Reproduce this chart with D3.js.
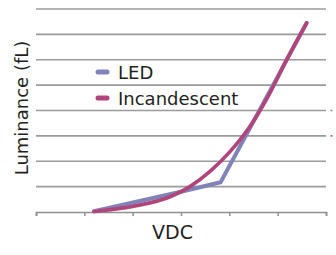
<!DOCTYPE html>
<html>
<head>
<meta charset="utf-8">
<script src="https://cdn.jsdelivr.net/npm/d3@7"></script>
<style>
  body { margin: 0; background: #fff; }
  text { font-family: "DejaVu Sans", sans-serif; fill: #231f20; }
</style>
</head>
<body>
<div id="vis"></div>
<script>
// values (x in axis steps, y in grid steps)
var xTicks = [0, 1, 2, 3, 4, 5, 6];
var yGrid = [1, 2, 3, 4, 5, 6, 7, 8];
var ledX = [1.2, 3.0, 3.82, 5.6];
var ledY = [0.03, 0.8, 1.17, 7.45];
var incX = [1.2, 2.0, 2.8, 3.2, 3.6, 4.0, 4.4, 4.8, 5.2, 5.6];
var incY = [0.02, 0.22, 0.62, 1.02, 1.6, 2.35, 3.3, 4.55, 6.05, 7.45];
var seriesNames = ["LED", "Incandescent"];
var seriesColors = ["#8083b8", "#b0457b"];

var width = 336,
    height = 255;

var svg = d3.select("#vis").append("svg")
    .attr("width", width)
    .attr("height", height);

var x = d3.scaleLinear().domain([0, 6]).range([36, 326]);
var y = d3.scaleLinear().domain([0, 8]).range([212, 9]);

// gridlines
svg.selectAll(".grid")
    .data(yGrid)
    .enter().append("line")
    .attr("x1", x(0))
    .attr("x2", x(6))
    .attr("y1", function(d) { return y(d); })
    .attr("y2", function(d) { return y(d); })
    .attr("stroke", "#9a9a9a")
    .attr("stroke-width", 1.7);

// x axis with ticks pointing down
var xAxis = svg.append("g")
    .attr("transform", "translate(0," + y(0) + ")")
    .call(d3.axisBottom(x).tickValues(xTicks).tickSize(4).tickFormat(""));
xAxis.select(".domain").attr("stroke", "#8f8f8f").attr("stroke-width", 1.7);
xAxis.selectAll(".tick line").attr("stroke", "#8f8f8f").attr("stroke-width", 1.5);

// lines
var ledData = ledX.map(function(d, i) { return [d, ledY[i]]; });
var incData = incX.map(function(d, i) { return [d, incY[i]]; });

var line = d3.line()
    .x(function(d) { return x(d[0]); })
    .y(function(d) { return y(d[1]); });

svg.append("path")
    .attr("d", line.curve(d3.curveLinear)(ledData))
    .attr("fill", "none")
    .attr("stroke", seriesColors[0])
    .attr("stroke-width", 4)
    .attr("stroke-linecap", "round")
    .attr("stroke-linejoin", "round");

svg.append("path")
    .attr("d", line.curve(d3.curveMonotoneX)(incData))
    .attr("fill", "none")
    .attr("stroke", seriesColors[1])
    .attr("stroke-width", 3.7)
    .attr("stroke-linecap", "round");

// legend
var legend = svg.selectAll(".legend")
    .data(seriesNames)
    .enter().append("g")
    .attr("transform", function(d, i) { return "translate(0," + (72 + i * 26) + ")"; });

legend.append("line")
    .attr("x1", 98).attr("x2", 107)
    .attr("stroke", function(d, i) { return seriesColors[i]; })
    .attr("stroke-width", 5)
    .attr("stroke-linecap", "round");

legend.append("text")
    .attr("x", 118)
    .attr("y", 6.5)
    .style("font-size", "18px")
    .text(function(d) { return d; });

// axis titles
svg.append("text")
    .attr("x", 172.5)
    .attr("y", 239)
    .attr("text-anchor", "middle")
    .style("font-size", "19px")
    .text("VDC");

svg.append("text")
    .attr("transform", "translate(28,108) rotate(-90)")
    .attr("text-anchor", "middle")
    .style("font-size", "18px")
    .text("Luminance (fL)");

// small marks at the right edge
svg.selectAll(".edge")
    .data(seriesColors)
    .enter().append("line")
    .attr("x1", 330.5).attr("x2", 332.5)
    .attr("y1", function(d, i) { return y(4 - i); })
    .attr("y2", function(d, i) { return y(4 - i); })
    .attr("stroke", function(d) { return d; })
    .attr("stroke-width", 1.5);
</script>
</body>
</html>
